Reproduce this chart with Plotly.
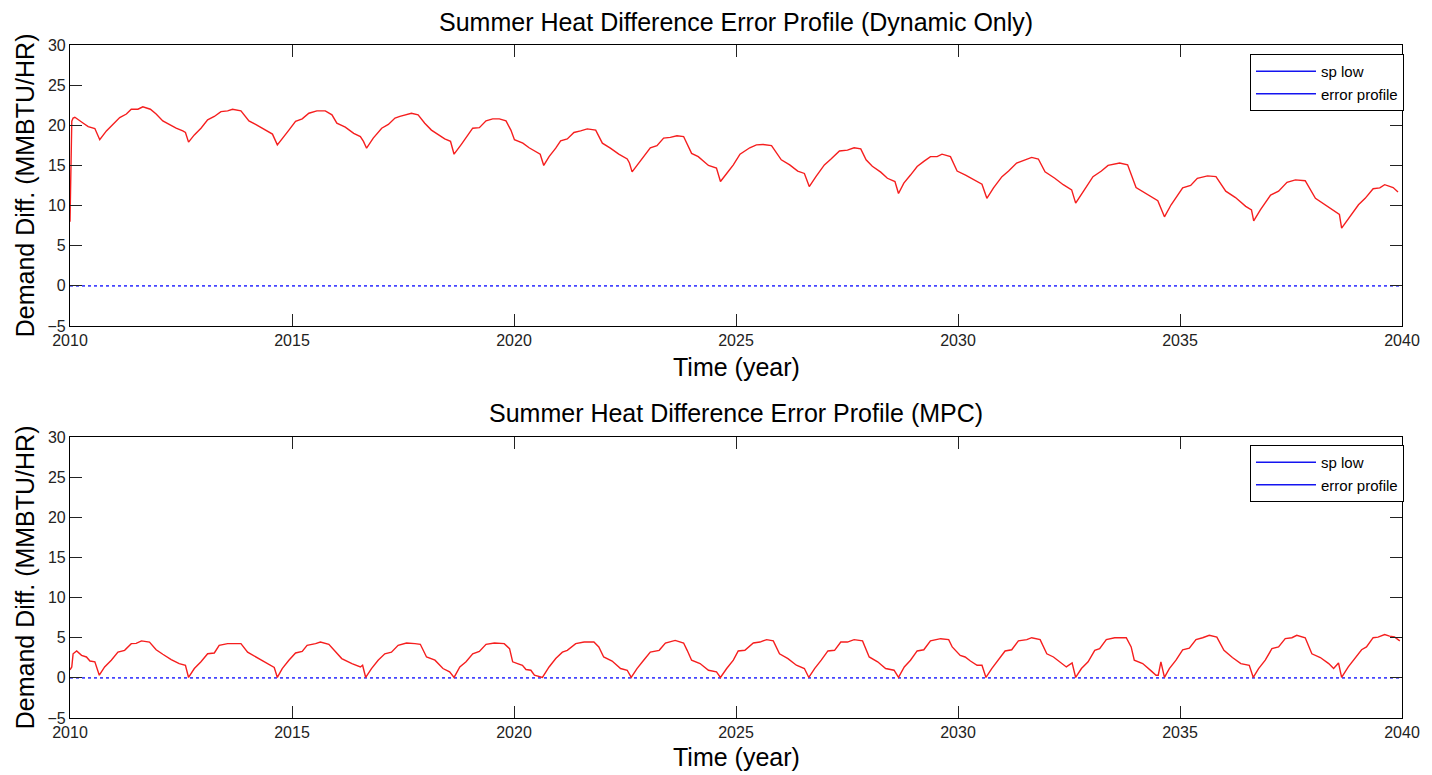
import plotly.graph_objects as go

# ---------------- data ----------------
dyn_years = [
    2010.00, 2010.02, 2010.04, 2010.07, 2010.11, 2010.30, 2010.41, 2010.56, 2010.67, 2010.82,
    2010.97, 2011.12, 2011.27, 2011.38, 2011.53, 2011.64, 2011.81, 2011.94, 2012.09, 2012.24,
    2012.39, 2012.54, 2012.60, 2012.67, 2012.80, 2012.95, 2013.10, 2013.25, 2013.40, 2013.55,
    2013.66, 2013.85, 2014.03, 2014.18, 2014.33, 2014.48, 2014.56, 2014.67, 2014.78, 2014.93,
    2015.08, 2015.23, 2015.38, 2015.56, 2015.75, 2015.90, 2016.01, 2016.20, 2016.39, 2016.54,
    2016.61, 2016.68, 2016.83, 2017.02, 2017.17, 2017.32, 2017.43, 2017.69, 2017.84, 2017.99,
    2018.14, 2018.29, 2018.44, 2018.57, 2018.65, 2018.81, 2018.96, 2019.07, 2019.22, 2019.37,
    2019.52, 2019.67, 2019.82, 2019.93, 2020.01, 2020.20, 2020.34, 2020.49, 2020.59, 2020.67,
    2020.79, 2020.94, 2021.05, 2021.20, 2021.35, 2021.50, 2021.65, 2021.84, 2021.99, 2022.17,
    2022.36, 2022.55, 2022.60, 2022.66, 2022.81, 2022.96, 2023.07, 2023.22, 2023.37, 2023.52,
    2023.67, 2023.82, 2024.00, 2024.15, 2024.38, 2024.56, 2024.65, 2024.79, 2024.94, 2025.09,
    2025.31, 2025.46, 2025.61, 2025.80, 2026.02, 2026.21, 2026.39, 2026.54, 2026.65, 2026.80,
    2026.99, 2027.14, 2027.33, 2027.51, 2027.66, 2027.81, 2027.93, 2028.07, 2028.26, 2028.41,
    2028.58, 2028.66, 2028.78, 2028.93, 2029.08, 2029.23, 2029.38, 2029.53, 2029.64, 2029.83,
    2029.98, 2030.17, 2030.35, 2030.54, 2030.65, 2030.80, 2030.99, 2031.14, 2031.32, 2031.51,
    2031.66, 2031.81, 2031.96, 2032.18, 2032.37, 2032.56, 2032.65, 2032.82, 2033.04, 2033.23,
    2033.38, 2033.64, 2033.82, 2034.01, 2034.24, 2034.50, 2034.65, 2034.80, 2035.06, 2035.24,
    2035.39, 2035.62, 2035.81, 2036.03, 2036.25, 2036.48, 2036.61, 2036.66, 2036.81, 2037.04,
    2037.22, 2037.41, 2037.60, 2037.82, 2038.05, 2038.27, 2038.50, 2038.59, 2038.64, 2038.79,
    2039.02, 2039.17, 2039.35, 2039.50, 2039.61, 2039.80, 2039.91,
]
dyn_error = [
    8.0, 16.5, 20.5, 20.9, 21.0, 20.26, 19.84, 19.6, 18.2, 19.3,
    20.1, 20.96, 21.4, 22.0, 22.0, 22.3, 22.0, 21.4, 20.55, 20.05,
    19.64, 19.3, 19.1, 17.9, 18.8, 19.64, 20.67, 21.1, 21.7, 21.8,
    22.0, 21.8, 20.55, 20.1, 19.64, 19.2, 18.9, 17.56, 18.4, 19.4,
    20.5, 20.8, 21.5, 21.8, 21.8, 21.3, 20.26, 19.76, 19.0, 18.6,
    18.0, 17.15, 18.4, 19.64, 20.1, 20.9, 21.1, 21.5, 21.3, 20.26,
    19.4, 18.8, 18.3, 18.0, 16.4, 17.6, 18.8, 19.64, 19.7, 20.55,
    20.8, 20.8, 20.55, 19.4, 18.2, 17.77, 17.2, 16.7, 16.4, 15.0,
    16.1, 17.15, 18.06, 18.3, 19.1, 19.3, 19.55, 19.4, 17.77, 17.15,
    16.4, 15.8, 15.3, 14.2, 15.3, 16.3, 17.2, 17.47, 18.4, 18.5,
    18.7, 18.6, 16.5, 16.1, 15.0, 14.66, 13.0, 14.0, 15.07, 16.4,
    17.2, 17.56, 17.6, 17.47, 15.7, 15.07, 14.3, 14.0, 12.37, 13.6,
    15.07, 15.8, 16.8, 16.9, 17.2, 17.06, 15.7, 14.9, 14.16, 13.4,
    13.0, 11.5, 12.8, 13.8, 14.86, 15.5, 16.1, 16.1, 16.4, 16.1,
    14.3, 13.8, 13.2, 12.66, 10.9, 12.2, 13.6, 14.3, 15.3, 15.7,
    16.0, 15.8, 14.2, 13.4, 12.6, 11.96, 10.3, 11.75, 13.6, 14.3,
    15.0, 15.3, 15.07, 12.25, 11.5, 10.6, 8.6, 10.1, 12.2, 12.5,
    13.4, 13.7, 13.6, 11.8, 11.0, 9.9, 9.46, 8.1, 9.46, 11.3,
    11.8, 12.9, 13.2, 13.1, 10.9, 10.1, 9.25, 8.9, 7.2, 8.4,
    10.1, 10.9, 12.1, 12.2, 12.6, 12.25, 11.7,
]

mpc_years = [
    2010.00, 2010.04, 2010.07, 2010.15, 2010.26, 2010.37, 2010.45, 2010.56, 2010.66, 2010.78,
    2010.93, 2011.08, 2011.23, 2011.38, 2011.49, 2011.61, 2011.79, 2011.94, 2012.09, 2012.28,
    2012.46, 2012.60, 2012.67, 2012.80, 2012.95, 2013.10, 2013.25, 2013.36, 2013.55, 2013.70,
    2013.85, 2014.00, 2014.18, 2014.33, 2014.52, 2014.60, 2014.67, 2014.78, 2014.93, 2015.08,
    2015.23, 2015.34, 2015.53, 2015.64, 2015.83, 2015.98, 2016.12, 2016.35, 2016.54, 2016.59,
    2016.66, 2016.79, 2016.94, 2017.09, 2017.24, 2017.39, 2017.58, 2017.77, 2017.89, 2018.03,
    2018.22, 2018.40, 2018.55, 2018.65, 2018.78, 2018.92, 2019.07, 2019.22, 2019.37, 2019.56,
    2019.78, 2019.90, 2019.97, 2020.08, 2020.19, 2020.27, 2020.38, 2020.46, 2020.64, 2020.79,
    2020.94, 2021.09, 2021.20, 2021.39, 2021.58, 2021.80, 2021.91, 2022.02, 2022.21, 2022.40,
    2022.55, 2022.64, 2022.77, 2022.92, 2023.07, 2023.27, 2023.41, 2023.63, 2023.82, 2023.90,
    2024.00, 2024.19, 2024.38, 2024.56, 2024.65, 2024.79, 2024.94, 2025.05, 2025.20, 2025.39,
    2025.54, 2025.69, 2025.84, 2025.98, 2026.17, 2026.36, 2026.54, 2026.64, 2026.77, 2026.92,
    2027.07, 2027.22, 2027.36, 2027.51, 2027.66, 2027.85, 2028.00, 2028.19, 2028.37, 2028.56,
    2028.66, 2028.79, 2028.93, 2029.08, 2029.23, 2029.38, 2029.61, 2029.79, 2029.87, 2030.05,
    2030.16, 2030.28, 2030.43, 2030.54, 2030.63, 2030.76, 2030.91, 2031.06, 2031.21, 2031.36,
    2031.55, 2031.66, 2031.85, 2032.00, 2032.15, 2032.29, 2032.44, 2032.57, 2032.65, 2032.78,
    2032.93, 2033.08, 2033.19, 2033.34, 2033.53, 2033.79, 2033.90, 2033.97, 2034.16, 2034.35,
    2034.46, 2034.51, 2034.57, 2034.65, 2034.76, 2034.91, 2035.06, 2035.21, 2035.36, 2035.51,
    2035.66, 2035.83, 2035.99, 2036.18, 2036.37, 2036.56, 2036.65, 2036.77, 2036.92, 2037.07,
    2037.22, 2037.37, 2037.52, 2037.63, 2037.82, 2037.97, 2038.16, 2038.35, 2038.46, 2038.57,
    2038.64, 2038.79, 2038.94, 2039.09, 2039.20, 2039.35, 2039.46, 2039.61, 2039.72, 2039.83,
    2039.95,
]
mpc_error = [
    1.0, 1.36, 3.0, 3.35, 2.8, 2.6, 2.1, 2.0, 0.33, 1.36,
    2.2, 3.2, 3.43, 4.26, 4.3, 4.6, 4.46, 3.5, 2.94, 2.28,
    1.78, 1.57, 0.05, 1.16, 2.0, 3.0, 3.1, 4.05, 4.26, 4.26,
    4.26, 3.2, 2.6, 2.1, 1.57, 1.3, 0.05, 1.16, 2.2, 3.1,
    3.3, 4.05, 4.26, 4.46, 4.18, 3.2, 2.4, 1.78, 1.36, 1.57,
    0.05, 1.16, 2.2, 3.0, 3.2, 4.05, 4.34, 4.26, 4.18, 2.6,
    2.2, 1.16, 0.75, 0.05, 1.36, 2.0, 3.0, 3.3, 4.18, 4.34,
    4.26, 3.64, 2.0, 1.78, 1.57, 1.04, 0.95, 0.33, 0.05, 1.36,
    2.4, 3.2, 3.43, 4.26, 4.46, 4.46, 3.85, 2.6, 2.1, 1.16,
    0.95, 0.05, 1.16, 2.2, 3.2, 3.43, 4.34, 4.67, 4.34, 3.43,
    2.2, 1.78, 0.95, 0.75, 0.05, 1.16, 2.2, 3.35, 3.43, 4.34,
    4.46, 4.76, 4.6, 3.0, 2.4, 1.57, 1.16, 0.05, 1.16, 2.2,
    3.35, 3.43, 4.46, 4.46, 4.76, 4.6, 2.6, 2.0, 1.16, 0.95,
    0.05, 1.36, 2.2, 3.35, 3.5, 4.6, 4.88, 4.76, 3.85, 2.8,
    2.6, 2.1, 1.57, 1.57, 0.05, 1.16, 2.2, 3.35, 3.5, 4.6,
    4.76, 5.0, 4.76, 3.0, 2.6, 2.0, 1.36, 1.86, 0.05, 1.16,
    2.0, 3.43, 3.64, 4.76, 5.0, 5.0, 3.85, 2.2, 1.78, 0.87,
    0.33, 0.33, 2.0, 0.05, 1.16, 2.2, 3.5, 3.7, 4.76, 5.0,
    5.3, 5.08, 3.43, 2.53, 1.78, 1.57, 0.05, 1.16, 2.2, 3.64,
    3.85, 4.88, 5.0, 5.3, 5.0, 3.0, 2.53, 1.78, 1.16, 1.86,
    0.05, 1.36, 2.4, 3.5, 3.85, 5.0, 5.08, 5.4, 5.2, 5.1,
    4.6,
]

sp_years = [2010, 2040]
sp_low = [0, 0]

x_ticks = [2010, 2015, 2020, 2025, 2030, 2035, 2040]
y_ticks = [-5, 0, 5, 10, 15, 20, 25, 30]

titles = ["Summer Heat Difference Error Profile (Dynamic Only)",
          "Summer Heat Difference Error Profile (MPC)"]
x_label = "Time (year)"
y_label = "Demand Diff. (MMBTU/HR)"
legend_names = ["sp low", "error profile"]

# ---------------- figure ----------------
FONT = "Liberation Sans, Arial, Helvetica, sans-serif"
RED = "rgb(245,30,30)"
BLUE = "rgb(70,70,255)"
LEG_BLUE = "rgb(20,20,240)"

fig = go.Figure()

series = [(dyn_years, dyn_error, "x", "y", "legend"),
          (mpc_years, mpc_error, "x2", "y2", "legend2")]

for xs, ys, xa, ya, lg in series:
    # legend entries (MATLAB legend shows both as blue lines)
    for nm in legend_names:
        fig.add_trace(go.Scatter(x=[None], y=[None], mode="lines", name=nm,
                                 line=dict(color=LEG_BLUE, width=1.5),
                                 xaxis=xa, yaxis=ya, legend=lg, showlegend=True))
    fig.add_trace(go.Scatter(x=sp_years, y=sp_low, mode="lines",
                             line=dict(color=BLUE, width=1.6, dash="dot"),
                             xaxis=xa, yaxis=ya, showlegend=False))
    fig.add_trace(go.Scatter(x=xs, y=ys, mode="lines",
                             line=dict(color=RED, width=1.4),
                             xaxis=xa, yaxis=ya, showlegend=False))

# page body has an 8px offset; work in page pixels below
OFF = 8
PAGE_W, PAGE_H = 1432, 775
W, H = PAGE_W - OFF, PAGE_H - OFF
PLOT_L, PLOT_R, PLOT_T, PLOT_B = 70, 1409, 45, 718   # page pixels of the plotting area
ML, MT = PLOT_L - OFF, PLOT_T - OFF
MR, MB = PAGE_W - PLOT_R, PAGE_H - PLOT_B


def py(pix):
    return (PLOT_B - pix) / (PLOT_B - PLOT_T)


def px(pix):
    return (pix - PLOT_L) / (PLOT_R - PLOT_L)


axis_common = dict(showline=True, linecolor="black", linewidth=1.2, mirror="ticks",
                   ticks="inside", ticklen=12, tickwidth=1.2, tickcolor="#222",
                   showgrid=False, zeroline=False,
                   tickfont=dict(family=FONT, size=16, color="#222"))

leg_common = dict(xanchor="right", yanchor="top", bgcolor="white", bordercolor="black",
                  borderwidth=1, font=dict(family=FONT, size=15, color="black"),
                  tracegroupgap=0, itemwidth=60)

fig.update_layout(
    width=W, height=H,
    margin=dict(l=ML, r=MR, t=MT, b=MB),
    paper_bgcolor="white", plot_bgcolor="white",
    font=dict(family=FONT, color="black"),
    xaxis=dict(domain=[0, 1], anchor="y", range=[2010, 2040], tickvals=x_ticks, **axis_common),
    yaxis=dict(domain=[py(326), 1], anchor="x", range=[-5, 30], tickvals=y_ticks, **axis_common),
    xaxis2=dict(domain=[0, 1], anchor="y2", range=[2010, 2040], tickvals=x_ticks, **axis_common),
    yaxis2=dict(domain=[0, py(437)], anchor="x2", range=[-5, 30], tickvals=y_ticks, **axis_common),
    legend=dict(x=px(1411), y=py(54), **leg_common),
    legend2=dict(x=px(1411), y=py(445), **leg_common),
    showlegend=True,
)

ann = []
for title_txt, tpix, xlab_pix, ylab_pix in [(titles[0], 22, 367, 185),
                                            (titles[1], 413, 757, 577)]:
    ann.append(dict(text=title_txt, xref="paper", yref="paper", x=0.5, y=py(tpix),
                    xanchor="center", yanchor="middle", showarrow=False,
                    font=dict(family=FONT, size=25, color="black")))
    ann.append(dict(text=x_label, xref="paper", yref="paper", x=0.5, y=py(xlab_pix),
                    xanchor="center", yanchor="middle", showarrow=False,
                    font=dict(family=FONT, size=25, color="black")))
    ann.append(dict(text=y_label, xref="paper", yref="paper", x=px(25), y=py(ylab_pix),
                    xanchor="center", yanchor="middle", showarrow=False, textangle=-90,
                    font=dict(family=FONT, size=25, color="black")))
fig.update_layout(annotations=ann)

fig.write_html("out.html")
